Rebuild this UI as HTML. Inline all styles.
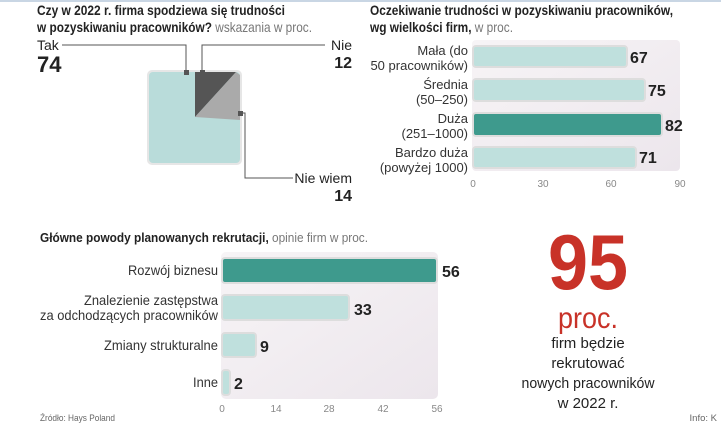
<!DOCTYPE html>
<html><head><meta charset="utf-8"><style>
body{margin:0;background:#fff;}
svg{display:block;font-family:"Liberation Sans",sans-serif;}
</style></head><body>
<svg width="721" height="430" viewBox="0 0 721 430">
<defs>
<linearGradient id="bg" x1="0" y1="0" x2="1" y2="1"><stop offset="0" stop-color="#f7f4f6"/><stop offset="1" stop-color="#ece6ec"/></linearGradient>
</defs>
<rect x="0" y="0" width="721" height="2" fill="#c9d6e4"/>
<!-- Top-left -->
<text x="37" y="15" font-size="14" font-weight="bold" fill="#222" textLength="248" lengthAdjust="spacingAndGlyphs">Czy w 2022 r. firma spodziewa się trudności</text>
<text x="37" y="32" font-size="14" font-weight="bold" fill="#222" textLength="275" lengthAdjust="spacingAndGlyphs">w pozyskiwaniu pracowników? <tspan font-weight="normal" fill="#777">wskazania w proc.</tspan></text>
<rect x="147" y="70" width="95" height="95" rx="5" fill="#e6e6e6"/>
<rect x="149" y="72" width="91" height="91" rx="4" fill="#b9dcda"/>
<polygon points="195,117 195,72 236,72" fill="#555"/>
<polygon points="195,117 236,72 240,75 240,120" fill="#aaa"/>
<polyline points="62,45 186,45 186,72" fill="none" stroke="#555" stroke-width="1"/>
<polyline points="325,45 202,45 202,72" fill="none" stroke="#555" stroke-width="1"/>
<polyline points="240,113 245,113 245,178 293,178" fill="none" stroke="#555" stroke-width="1"/>
<rect x="184" y="70" width="5" height="5" fill="#555"/>
<rect x="200" y="70" width="5" height="5" fill="#555"/>
<rect x="238" y="111" width="5" height="5" fill="#555"/>
<text x="37" y="50" font-size="14" fill="#222">Tak</text>
<text x="37" y="72" font-size="22" font-weight="bold" fill="#222">74</text>
<text x="352" y="50" font-size="14" fill="#222" text-anchor="end">Nie</text>
<text x="352" y="68" font-size="16" font-weight="bold" fill="#222" text-anchor="end">12</text>
<text x="352" y="183" font-size="14" fill="#222" text-anchor="end">Nie wiem</text>
<text x="352" y="201" font-size="16" font-weight="bold" fill="#222" text-anchor="end">14</text>
<!-- Top-right -->
<text x="370" y="15" font-size="14" font-weight="bold" fill="#222" textLength="303" lengthAdjust="spacingAndGlyphs">Oczekiwanie trudności w pozyskiwaniu pracowników,</text>
<text x="370" y="32" font-size="14" font-weight="bold" fill="#222" textLength="143" lengthAdjust="spacingAndGlyphs">wg wielkości firm, <tspan font-weight="normal" fill="#777">w proc.</tspan></text>
<rect x="472" y="40" width="208" height="131" rx="4" fill="url(#bg)"/>
<g stroke="#ddd" stroke-width="2">
<rect x="473" y="46" width="154" height="21" rx="3" fill="#bfe0dd"/>
<rect x="473" y="79" width="172" height="22" rx="3" fill="#bfe0dd"/>
<rect x="473" y="113" width="189" height="23" rx="3" fill="#3e9a8d"/>
<rect x="473" y="147" width="163" height="21" rx="3" fill="#bfe0dd"/>
</g>
<g fill="#333" text-anchor="end" font-size="13">
<text x="468" y="55">Mała (do</text><text x="468" y="70">50 pracowników)</text>
<text x="468" y="89">Średnia</text><text x="468" y="104">(50–250)</text>
<text x="468" y="123">Duża</text><text x="468" y="138">(251–1000)</text>
<text x="468" y="157">Bardzo duża</text><text x="468" y="172">(powyżej 1000)</text>
</g>
<g font-size="16" font-weight="bold" fill="#222">
<text x="630" y="63">67</text><text x="648" y="96">75</text><text x="665" y="131">82</text><text x="639" y="163">71</text>
</g>
<g font-size="10" fill="#888" text-anchor="middle"><text x="473" y="187">0</text><text x="543" y="187">30</text><text x="611" y="187">60</text><text x="680" y="187">90</text></g>
<!-- Bottom -->
<text x="40" y="242" font-size="13" font-weight="bold" fill="#222" textLength="328" lengthAdjust="spacingAndGlyphs">Główne powody planowanych rekrutacji, <tspan font-weight="normal" fill="#777">opinie firm w proc.</tspan></text>
<rect x="221" y="252" width="217" height="147" rx="5" fill="url(#bg)"/>
<g stroke="#ddd" stroke-width="2">
<rect x="222" y="258" width="215" height="25" rx="3" fill="#3e9a8d"/>
<rect x="222" y="295" width="127" height="25" rx="3" fill="#bfe0dd"/>
<rect x="222" y="333" width="34" height="24" rx="3" fill="#bfe0dd"/>
<rect x="222" y="370" width="8" height="25" rx="3" fill="#bfe0dd"/>
</g>
<g font-size="14" fill="#333" text-anchor="end">
<text x="218" y="275" textLength="90" lengthAdjust="spacingAndGlyphs">Rozwój biznesu</text>
<text x="218" y="305" textLength="134" lengthAdjust="spacingAndGlyphs">Znalezienie zastępstwa</text><text x="218" y="320" textLength="178" lengthAdjust="spacingAndGlyphs">za odchodzących pracowników</text>
<text x="218" y="350" textLength="114" lengthAdjust="spacingAndGlyphs">Zmiany strukturalne</text>
<text x="218" y="387" textLength="25" lengthAdjust="spacingAndGlyphs">Inne</text>
</g>
<g font-size="16" font-weight="bold" fill="#222">
<text x="442" y="277">56</text><text x="354" y="315">33</text><text x="260" y="352">9</text><text x="234" y="389">2</text>
</g>
<g font-size="10" fill="#888" text-anchor="middle"><text x="222" y="412">0</text><text x="276" y="412">14</text><text x="329" y="412">28</text><text x="383" y="412">42</text><text x="437" y="412">56</text></g>
<text x="40" y="421" font-size="9.5" fill="#666" textLength="75" lengthAdjust="spacingAndGlyphs">Źródło: Hays Poland</text>
<text x="717" y="421" font-size="9.5" fill="#666" text-anchor="end">Info: K</text>
<text x="588" y="289" font-size="78" font-weight="bold" fill="#c83228" text-anchor="middle" textLength="80" lengthAdjust="spacingAndGlyphs">95</text>
<text x="588" y="328" font-size="30" fill="#c83228" text-anchor="middle" textLength="60" lengthAdjust="spacingAndGlyphs">proc.</text>
<g font-size="15" fill="#222" text-anchor="middle">
<text x="588" y="348">firm będzie</text><text x="588" y="368">rekrutować</text><text x="588" y="388" textLength="133" lengthAdjust="spacingAndGlyphs">nowych pracowników</text><text x="588" y="408">w 2022 r.</text>
</g>
</svg>
</body></html>
